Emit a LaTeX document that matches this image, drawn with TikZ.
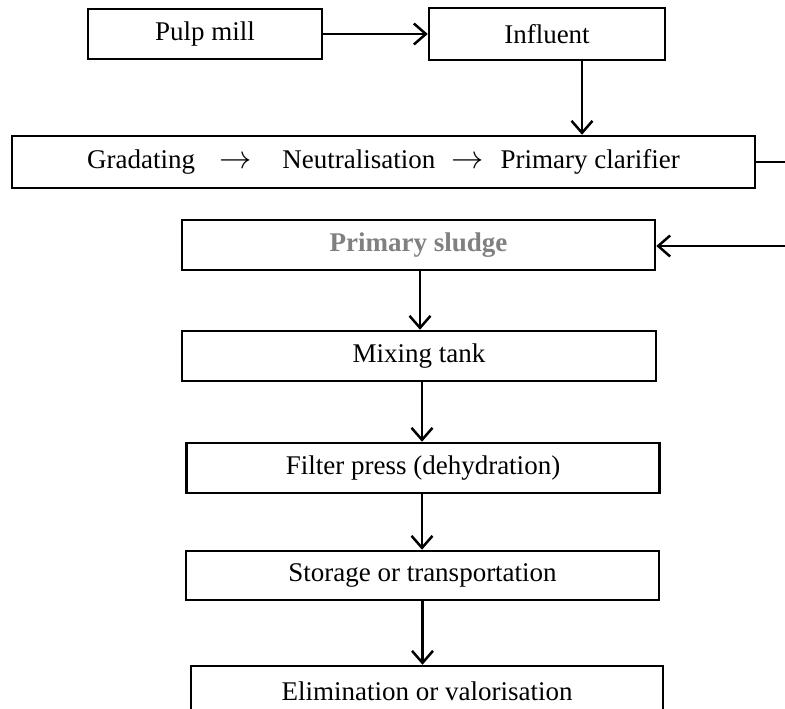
\documentclass[tikz,border=0pt]{standalone}
\usepackage{fontspec}
\setmainfont{Liberation Serif}
\usetikzlibrary{arrows.meta}
\definecolor{sludgegray}{RGB}{128,128,128}
\newcommand{\steparrow}{\scalebox{1.3}{$\rightarrow$}}
\begin{document}
\begin{tikzpicture}[->,>={Straight Barb[length=12pt,width=21pt]},x=1pt,y=-1pt,line width=2.5pt]
    \tikzstyle{box}=[draw,rectangle,line width=2.5pt,inner sep=0pt,minimum height=50pt,font=\fontsize{27}{32}\selectfont];
    \useasboundingbox (0,0) rectangle (785,709);
    \node[box,minimum width=234pt] at (205, 34)   (mill) {Pulp mill};
    \node[box,minimum width=236pt,minimum height=52pt] at (547, 34) (infl) {Influent};
    \node[box,minimum width=743pt,minimum height=52pt] at (383.5, 162) (clar) {Gradating\hspace{24pt}\steparrow\hspace{31pt}Neutralisation\hspace{16pt}\steparrow\hspace{17pt}Primary clarifier};
    \node[box,minimum width=473pt,text=sludgegray,font=\fontsize{27}{32}\selectfont\bfseries] at (418.5, 245) (sludge) {Primary sludge};
    \node[box,minimum width=474pt] at (419, 356)  (mix) {Mixing tank};
    \node[box,minimum width=473pt] at (423, 468)  (filter) {Filter press (dehydration)};
    \node[box,minimum width=473pt,minimum height=49pt] at (422.5, 575.5) (store) {Storage or transportation};
    \node[box,minimum width=472pt] at (427, 691)  (elim) {Elimination or valorisation};
    \coordinate (loopa) at (800, 162);
    \coordinate (loopb) at (800, 246);

    \draw (mill) to (infl);
    \draw ([xshift=35pt]infl.south) to ([xshift=35pt]infl.south |- clar.north);
    \draw (clar.east) -- (loopa) -- (loopb) -- (loopb -| sludge.east);
    \draw ([xshift=1.5pt]sludge.south) to ([xshift=1.5pt]sludge.south |- mix.north);
    \draw ([xshift=3pt]mix.south) to ([xshift=3pt]mix.south |- filter.north);
    \draw ([xshift=-1pt]filter.south) to ([xshift=-1pt]filter.south |- store.north);
    \draw (store.south) to (store.south |- elim.north);
\end{tikzpicture}
\end{document}
